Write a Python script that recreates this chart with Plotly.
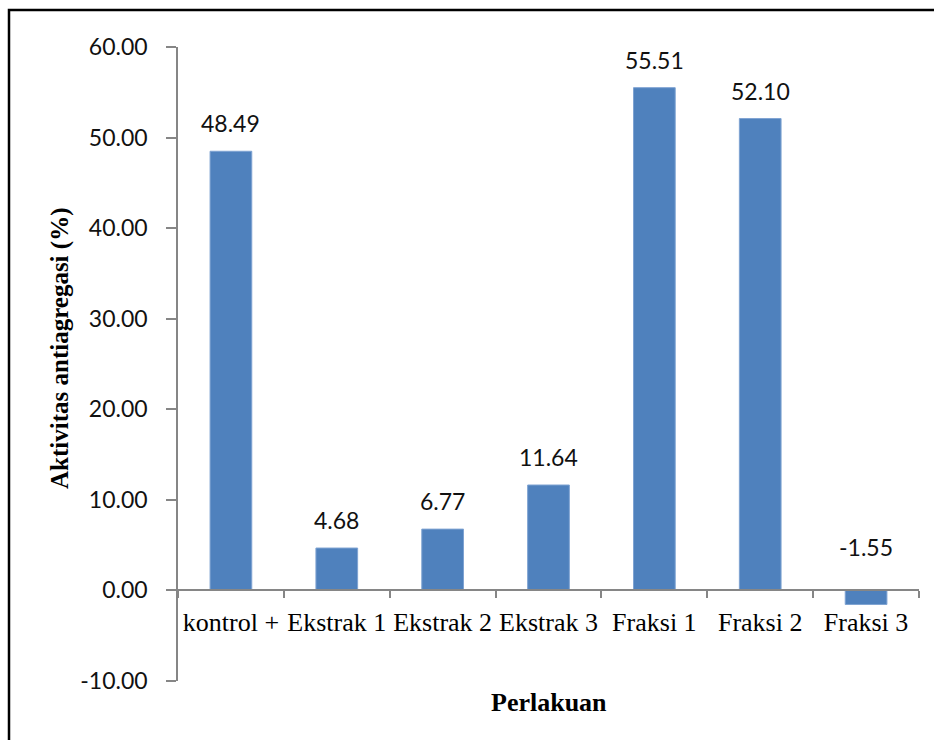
import plotly.graph_objects as go

categories = ["kontrol +", "Ekstrak 1", "Ekstrak 2", "Ekstrak 3", "Fraksi 1", "Fraksi 2", "Fraksi 3"]
values = [48.49, 4.68, 6.77, 11.64, 55.51, 52.10, -1.55]
y_ticks = [-10, 0, 10, 20, 30, 40, 50, 60]
y_ticklabels = ["%.2f" % t for t in y_ticks]

W, H = 934, 740
L, R, T, B = 178, 15, 47, 59
pw, ph = W - L - R, H - T - B
ymin, ymax = -10, 60

fig = go.Figure()
fig.add_trace(go.Bar(
    x=categories, y=values, width=0.394,
    marker=dict(color="#4F81BD", line=dict(color="#7FA3D2", width=1)),
    hoverinfo="x+y",
))

# data labels
for c, v in zip(categories, values):
    fig.add_annotation(
        x=c, y=max(v, 0), xref="x", yref="y",
        text="%.2f" % v, showarrow=False,
        yanchor="middle", yshift=28 if v >= 0 else 43,
        font=dict(family="Lato", size=23, color="#111111"),
    )

# axis titles
fig.add_annotation(
    x=(60 - L) / pw, y=(H - B - 349) / ph, xref="paper", yref="paper",
    text="<b>Aktivitas antiagregasi (%)</b>", showarrow=False, textangle=-90,
    xanchor="center", yanchor="middle",
    font=dict(family="Liberation Serif", size=25, color="#000000"),
)
fig.add_annotation(
    x=0.5, y=(H - B - 702) / ph, xref="paper", yref="paper",
    text="<b>Perlakuan</b>", showarrow=False,
    xanchor="center", yanchor="middle",
    font=dict(family="Liberation Serif", size=26, color="#000000"),
)

# outer frame (left and top visible)
fig.add_shape(
    type="rect", xref="paper", yref="paper",
    x0=(9 - L) / pw, x1=(W + 20 - L) / pw,
    y0=(H - B - (H + 20)) / ph, y1=(H - B - 10) / ph,
    line=dict(color="#000000", width=2.5), fillcolor="rgba(0,0,0,0)", layer="above",
)

fig.update_layout(
    width=W, height=H,
    margin=dict(l=L, r=R, t=T, b=B, pad=0, autoexpand=False),
    paper_bgcolor="white", plot_bgcolor="white",
    showlegend=False,
    xaxis=dict(
        type="category", range=[-0.5, 6.5],
        anchor="free", position=(0 - ymin) / (ymax - ymin),
        showline=True, linecolor="#868686", linewidth=1.5,
        ticks="outside", ticklen=7, tickcolor="#868686", tickwidth=1.5,
        tickson="boundaries", ticklabelstandoff=9, tickangle=0,
        automargin=False,
        tickfont=dict(family="Liberation Serif", size=26, color="#000000"),
        showgrid=False, zeroline=False,
    ),
    yaxis=dict(
        range=[ymin, ymax], automargin=False,
        tickvals=y_ticks, ticktext=y_ticklabels,
        showline=True, linecolor="#868686", linewidth=1.5,
        ticks="outside", ticklen=10, tickcolor="#868686", tickwidth=1.5,
        ticklabelstandoff=14,
        tickfont=dict(family="Lato", size=23, color="#111111"),
        showgrid=False, zeroline=False,
    ),
)

fig.write_html("out.html")
